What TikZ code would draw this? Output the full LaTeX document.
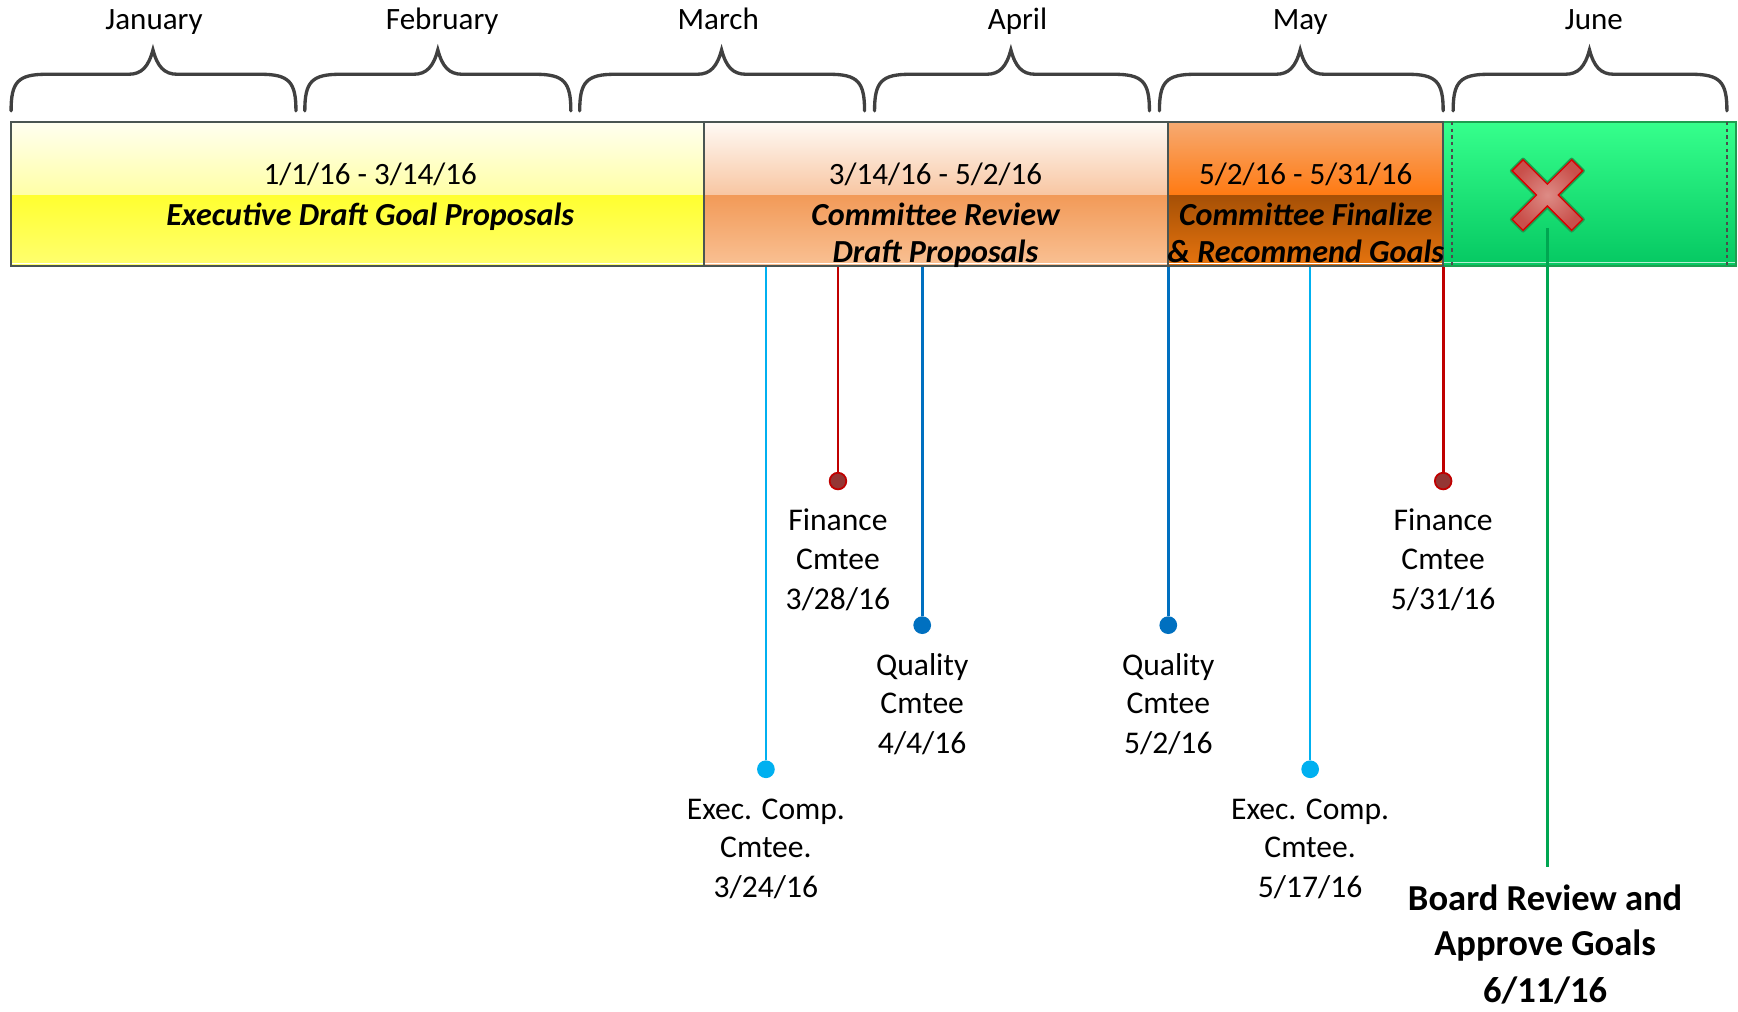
\documentclass[tikz,border=0pt]{standalone}
\usepackage{fontspec}
\setmainfont{Carlito}
\definecolor{yT}{HTML}{FFFFF0}
\definecolor{yM}{HTML}{FFFFA6}
\definecolor{yL}{HTML}{FFFF30}
\definecolor{yB}{HTML}{FFFF70}
\definecolor{pT}{HTML}{FFFAF5}
\definecolor{pM}{HTML}{F8C6A2}
\definecolor{pL}{HTML}{F29A58}
\definecolor{pB}{HTML}{F9C194}
\definecolor{oT}{HTML}{F6AA72}
\definecolor{oM}{HTML}{FF7A12}
\definecolor{oL}{HTML}{A65006}
\definecolor{oB}{HTML}{E6740E}
\definecolor{gT}{HTML}{36FF8C}
\definecolor{gB}{HTML}{05C862}
\definecolor{gEdge}{HTML}{1E9E50}
\definecolor{lblue}{HTML}{00B0F0}
\definecolor{dblue}{HTML}{0070C0}
\definecolor{dred}{HTML}{C00000}
\definecolor{fdot}{HTML}{943634}
\definecolor{bgreen}{HTML}{00A651}
\definecolor{xred}{HTML}{C9504B}
\definecolor{xlight}{HTML}{DD8C86}
\definecolor{edge}{HTML}{4A5552}
\newcommand{\monthbrace}[3]{%
  \draw[brace] (#1,100) .. controls (#1,74) and ({#1+6},67) .. ({#1+32},67)
    -- ({#3-22},67) .. controls ({#3-10},67) and ({#3-4},60) .. (#3,45)
    .. controls ({#3+4},60) and ({#3+10},67) .. ({#3+22},67)
    -- ({#2-32},67) .. controls ({#2-6},67) and (#2,74) .. (#2,100);}
\begin{document}
\begin{tikzpicture}[x=1pt,y=-1pt,
  brace/.style={draw=black!75, line width=3pt, line cap=round},
  month/.style={font=\fontsize{28}{34}\selectfont, anchor=base, inner sep=0},
  bartxt/.style={font=\fontsize{28}{34}\selectfont, anchor=base, inner sep=0},
  barbi/.style={font=\fontsize{29}{34}\selectfont\bfseries\itshape, anchor=base, inner sep=0},
  lbl/.style={font=\fontsize{28.5}{34}\selectfont, anchor=base, inner sep=0},
  blbl/.style={font=\fontsize{33}{40}\selectfont\bfseries, anchor=base, inner sep=0},
  dotnode/.style={circle, inner sep=0, minimum size=16pt},
  stem/.style={line width=2.4pt},
  barline/.style={draw=edge, line width=1.8pt},
]
\useasboundingbox (0,0) rectangle (1568,913);

% months
\node[month] (mjan) at (139,27) {January};
\node[month] (mfeb) at (399,27) {February};
\node[month] (mmar) at (648,27) {March};
\node[month] (mapr) at (918,27) {April};
\node[month] (mmay) at (1173,27) {May};
\node[month] (mjun) at (1438,27) {June};

\monthbrace{10}{267}{138}
\monthbrace{275}{515}{395}
\monthbrace{523}{780}{651}
\monthbrace{789}{1037}{912}
\monthbrace{1046}{1302}{1173}
\monthbrace{1311}{1558}{1434}

% bar segments
\shade[top color=yT, bottom color=yM] (10,110) rectangle (635,176);
\shade[top color=yL, bottom color=yB] (10,176) rectangle (635,240);
\shade[top color=pT, bottom color=pM] (635,110) rectangle (1054,176);
\shade[top color=pL, bottom color=pB] (635,176) rectangle (1054,240);
\shade[top color=oT, bottom color=oM] (1054,110) rectangle (1302,176);
\shade[top color=oL, bottom color=oB] (1054,176) rectangle (1302,240);
\shade[top color=gT, bottom color=gB] (1302,110) rectangle (1566,240);
\draw[white, line width=1.2pt] (11,237.5) -- (1301,237.5);
\draw[white!70!gB, line width=1.2pt] (1303,237) -- (1565,237);
\draw[gEdge, line width=1.6pt] (1302,110) rectangle (1566,240);
\draw[black!70, dashed, line width=1.3pt] (1310,110) -- (1310,240);
\draw[black!70, dashed, line width=1.3pt] (1558,110) -- (1558,240);
\draw[barline] (10,110) rectangle (635,240);
\draw[barline] (635,110) rectangle (1054,240);
\draw[barline] (1054,110) rectangle (1302,240);

% bar texts
\node[bartxt] (d1) at (334,166) {1/1/16 - 3/14/16};
\node[barbi] (t1) at (334,203) {Executive Draft Goal Proposals};
\node[bartxt] (d2) at (844,166) {3/14/16 - 5/2/16};
\node[barbi] (t2a) at (844,203) {Committee Review};
\node[barbi] (t2b) at (844,237) {Draft Proposals};
\node[bartxt] (d3) at (1178,166) {5/2/16 - 5/31/16};
\node[barbi] (t3a) at (1178,203) {Committee Finalize};
\node[barbi] (t3b) at (1178,237) {\& Recommend Goals};

% X mark
\begin{scope}[shift={(1396,176)}, rotate=45]
  \path[draw=gEdge, line width=4pt, line join=round]
    (-7,38) -- (7,38) -- (7,7) -- (38,7) -- (38,-7) -- (7,-7) -- (7,-38)
    -- (-7,-38) -- (-7,-7) -- (-38,-7) -- (-38,7) -- (-7,7) -- cycle;
  \path[inner color=xlight, outer color=xred, draw=red!85!black, line width=1.2pt]
    (-7,38) -- (7,38) -- (7,7) -- (38,7) -- (38,-7) -- (7,-7) -- (7,-38)
    -- (-7,-38) -- (-7,-7) -- (-38,-7) -- (-38,7) -- (-7,7) -- cycle;
\end{scope}

% stem start points
\coordinate (s1) at (691,241);
\coordinate (s2) at (756,241);
\coordinate (s3) at (832,241);
\coordinate (s4) at (1054,241);
\coordinate (s5) at (1182,241);
\coordinate (s6) at (1302,241);
\coordinate (s7) at (1396,206);
\coordinate (e7) at (1396,782);

% dots
\node[dotnode, fill=lblue] (p1) at (691,694) {};
\node[dotnode, fill=fdot, draw=dred, line width=1.6pt, minimum size=15pt] (p2) at (756,434) {};
\node[dotnode, fill=dblue] (p3) at (832,564) {};
\node[dotnode, fill=dblue] (p4) at (1054,564) {};
\node[dotnode, fill=lblue] (p5) at (1182,694) {};
\node[dotnode, fill=fdot, draw=dred, line width=1.6pt, minimum size=15pt] (p6) at (1302,434) {};

\draw[stem, lblue] (s1) -- (p1);
\draw[stem, dred] (s2) -- (p2);
\draw[stem, dblue] (s3) -- (p3);
\draw[stem, dblue] (s4) -- (p4);
\draw[stem, lblue] (s5) -- (p5);
\draw[stem, dred] (s6) -- (p6);
\draw[stem, bgreen] (s7) -- (e7);

% labels
\node[lbl] (l1a) at (691,739) {Exec. Comp.};
\node[lbl] (l1b) at (691,774) {Cmtee.};
\node[lbl] (l1c) at (691,810) {3/24/16};
\node[lbl] (l2a) at (756,479) {Finance};
\node[lbl] (l2b) at (756,514) {Cmtee};
\node[lbl] (l2c) at (756,550) {3/28/16};
\node[lbl] (l3a) at (832,609) {Quality};
\node[lbl] (l3b) at (832,644) {Cmtee};
\node[lbl] (l3c) at (832,680) {4/4/16};
\node[lbl] (l4a) at (1054,609) {Quality};
\node[lbl] (l4b) at (1054,644) {Cmtee};
\node[lbl] (l4c) at (1054,680) {5/2/16};
\node[lbl] (l5a) at (1182,739) {Exec. Comp.};
\node[lbl] (l5b) at (1182,774) {Cmtee.};
\node[lbl] (l5c) at (1182,810) {5/17/16};
\node[lbl] (l6a) at (1302,479) {Finance};
\node[lbl] (l6b) at (1302,514) {Cmtee};
\node[lbl] (l6c) at (1302,550) {5/31/16};
\node[blbl] (b1) at (1394,821) {Board Review and};
\node[blbl] (b2) at (1394,862) {Approve Goals};
\node[blbl] (b3) at (1394,904) {6/11/16};
\end{tikzpicture}
\end{document}
